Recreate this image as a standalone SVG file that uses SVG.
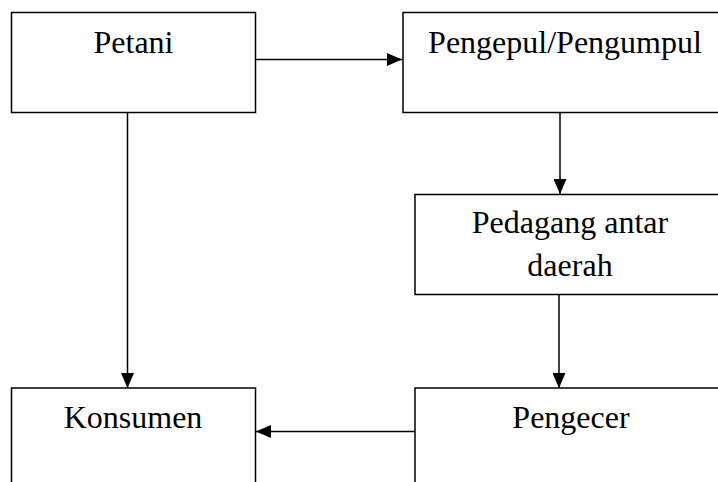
<svg xmlns="http://www.w3.org/2000/svg" width="718" height="482" viewBox="0 0 718 482">
<style>
.box{fill:#fff;stroke:#000;stroke-width:1.5}
.lbl{font-family:"Liberation Serif","Times New Roman",serif;font-size:32px;fill:#000;text-anchor:middle}
.edge{stroke:#000;stroke-width:1.5;fill:none}
</style>
<defs>
<marker id="ah" viewBox="0 0 15 13" refX="15" refY="6.5" markerWidth="15" markerHeight="13" markerUnits="userSpaceOnUse" orient="auto">
<path d="M0,0 L15,6.5 L0,13 Z" fill="#000"/>
</marker>
</defs>
<rect width="718" height="482" fill="#fff"/>
<g id="petani"><rect class="box" x="11.5" y="12.5" width="244" height="100"/><text class="lbl" x="133.5" y="53">Petani</text></g>
<g id="pengepul"><rect class="box" x="403" y="12.5" width="324" height="100"/><text class="lbl" x="565" y="53">Pengepul/Pengumpul</text></g>
<g id="pedagang"><rect class="box" x="415" y="194.5" width="312" height="100"/><text class="lbl" x="570" y="233">Pedagang antar</text><text class="lbl" x="570" y="276">daerah</text></g>
<g id="konsumen"><rect class="box" x="11.5" y="388" width="244" height="110"/><text class="lbl" x="133" y="428">Konsumen</text></g>
<g id="pengecer"><rect class="box" x="415" y="388" width="312" height="110"/><text class="lbl" x="571" y="428">Pengecer</text></g>
<g id="connectors">
<line class="edge" x1="256" y1="59.5" x2="402" y2="59.5" marker-end="url(#ah)"/>
<line class="edge" x1="560" y1="113" x2="560" y2="194" marker-end="url(#ah)"/>
<line class="edge" x1="127.5" y1="113" x2="127.5" y2="388" marker-end="url(#ah)"/>
<line class="edge" x1="559" y1="295" x2="559" y2="388" marker-end="url(#ah)"/>
<line class="edge" x1="415" y1="431.5" x2="256" y2="431.5" marker-end="url(#ah)"/>
</g>
</svg>
